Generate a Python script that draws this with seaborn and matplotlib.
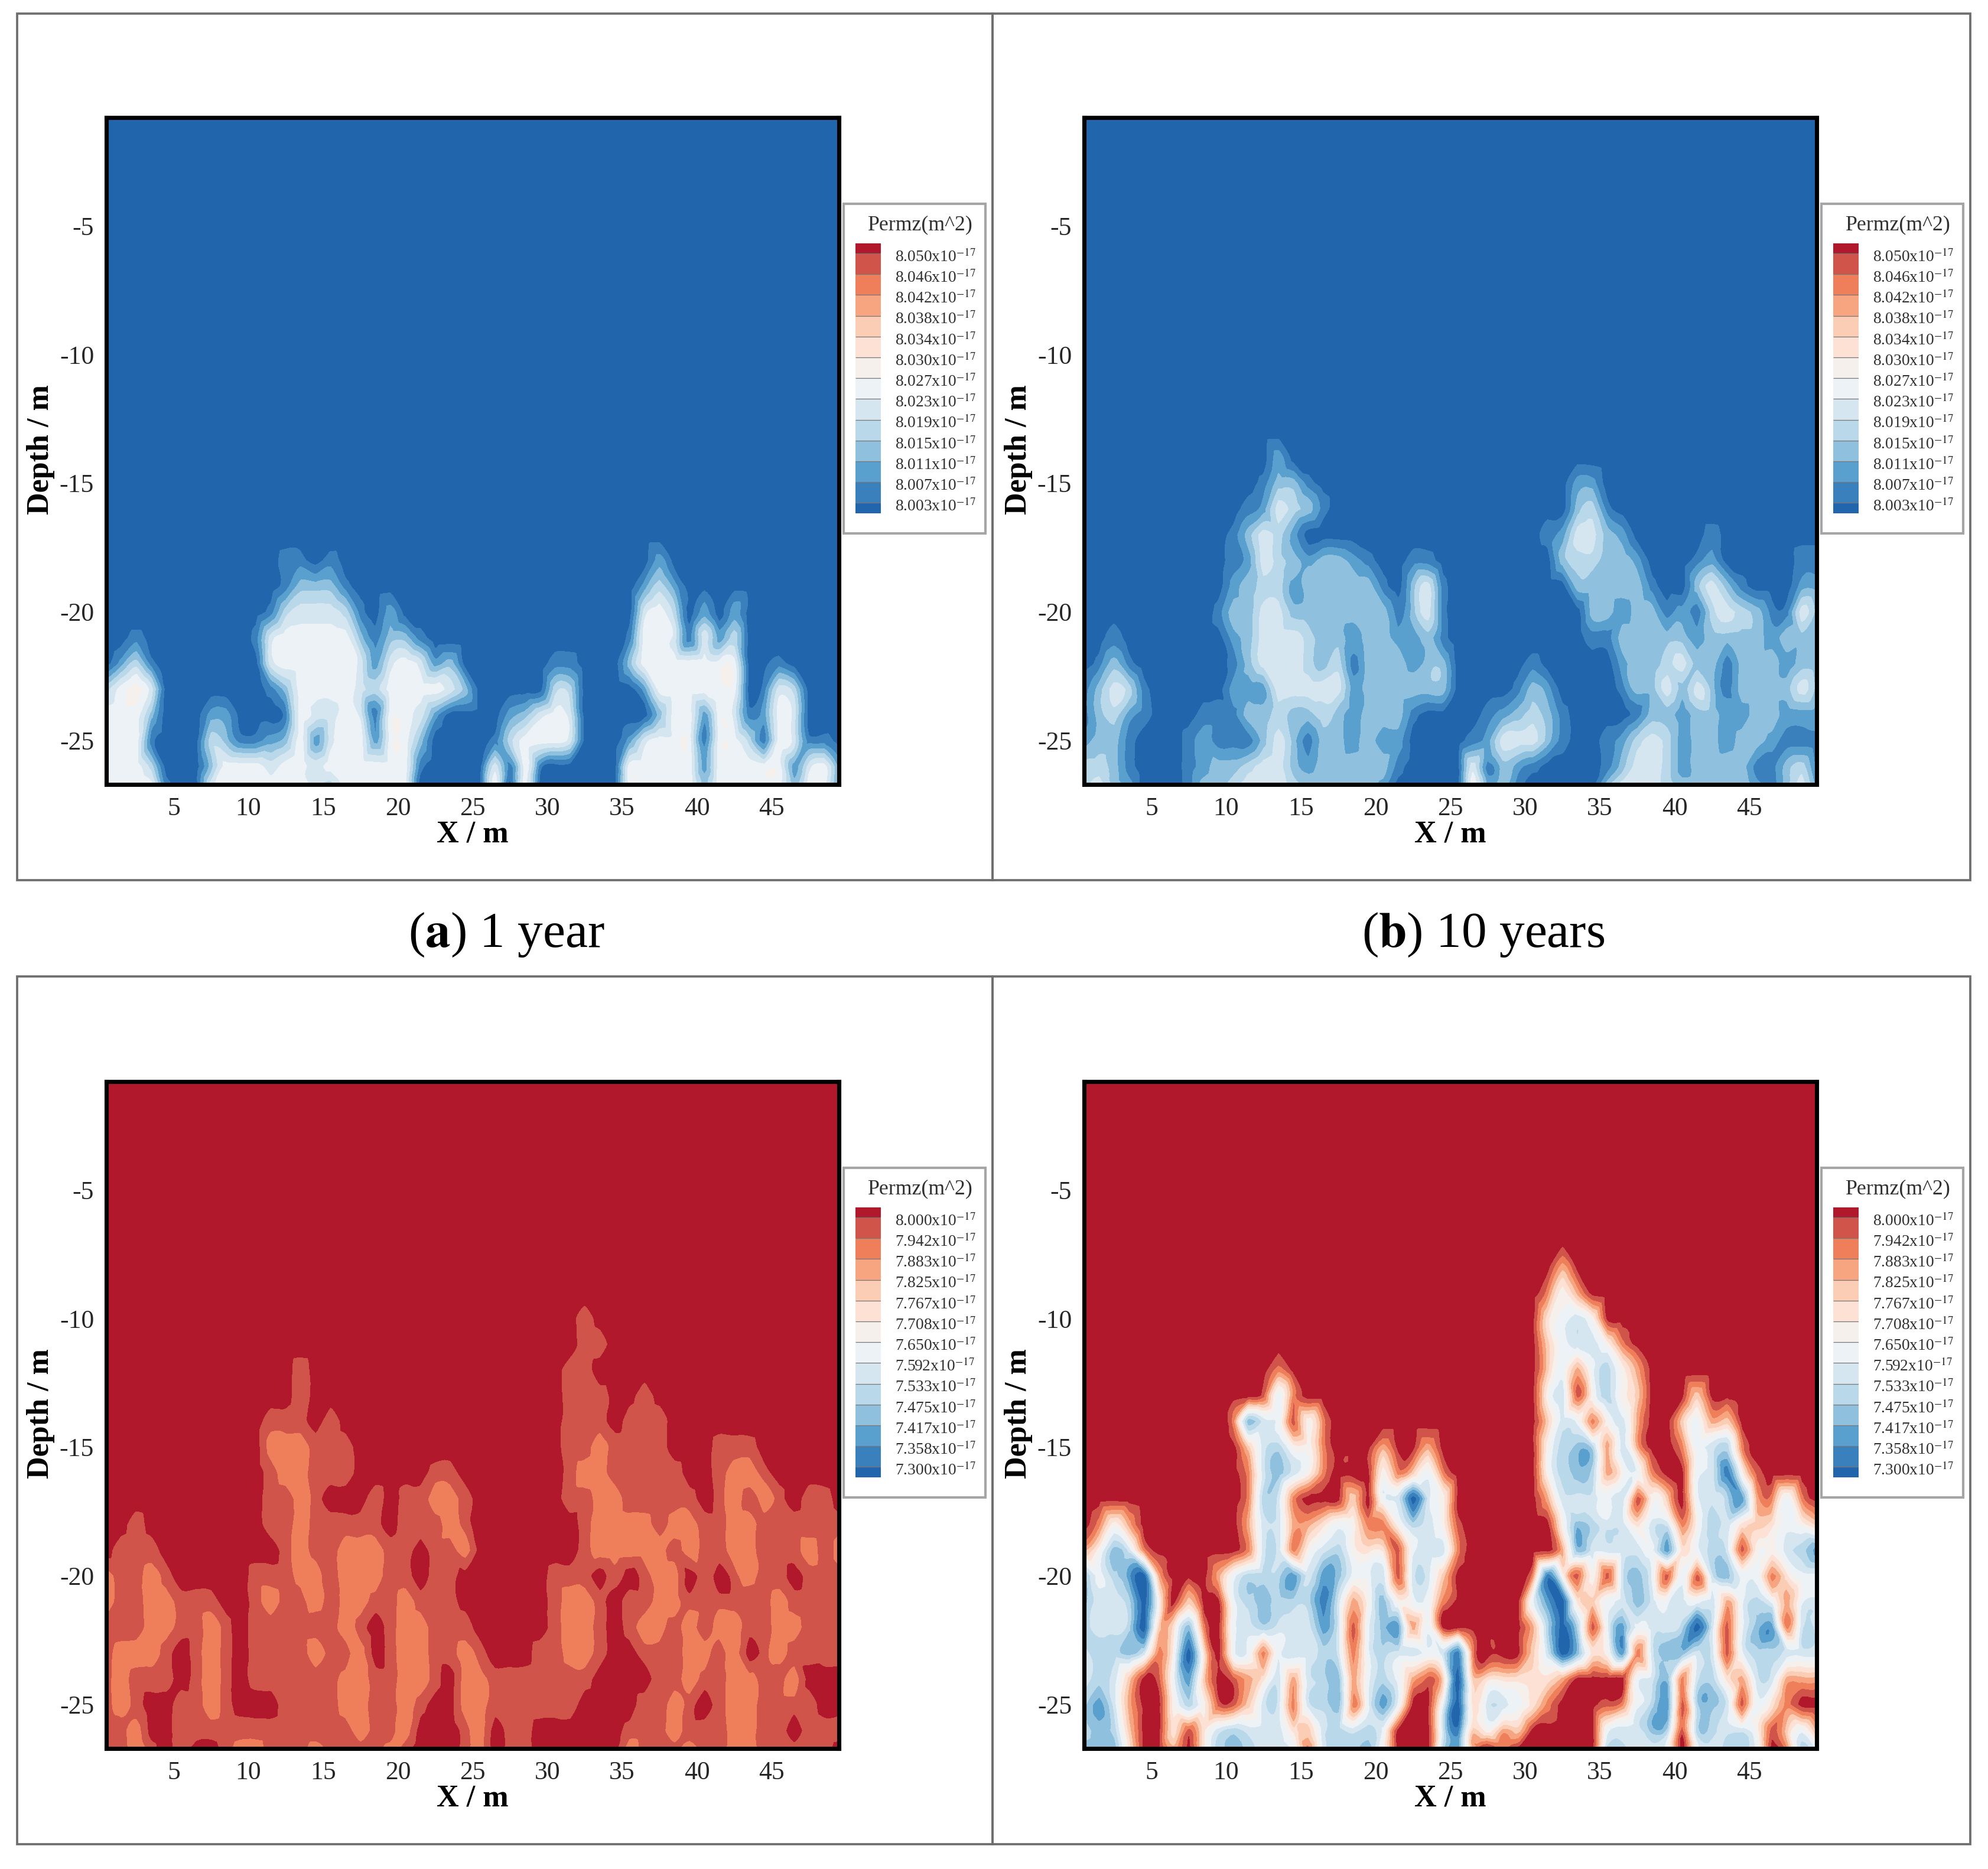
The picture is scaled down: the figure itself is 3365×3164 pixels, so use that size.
import numpy as np
import matplotlib
matplotlib.use("Agg")
import matplotlib.pyplot as plt
import matplotlib.tri as mtri
from matplotlib.colors import ListedColormap, BoundaryNorm
from matplotlib.patches import Rectangle
from matplotlib.ticker import MultipleLocator
import seaborn as sns

sns.set_theme(style="white")
plt.rcParams["font.family"] = ["Liberation Serif", "DejaVu Serif"]
plt.rcParams["mathtext.fontset"] = "stix"

W, H = 3365, 3164

# band colours, from the lowest band to the highest
BAND_COLORS = ["#2166AC", "#3A80BD", "#5AA0CF", "#8FC1DE", "#B9D9EA", "#D5E6F1", "#EDF2F6",
               "#F6F0EC", "#FCE1D4", "#FBCDB5", "#F7A581", "#EE7F5A", "#D1544A", "#B2182B"]
palette = sns.color_palette(BAND_COLORS)

X_CELLS = np.arange(0.5, 50.0, 1.0)

LABELS_TOP = ["8.050", "8.046", "8.042", "8.038", "8.034", "8.030", "8.027", "8.023", "8.019", "8.015", "8.011", "8.007", "8.003"]
LABELS_BOTTOM = ["8.000", "7.942", "7.883", "7.825", "7.767", "7.708", "7.650", "7.592", "7.533", "7.475", "7.417", "7.358", "7.300"]

# Band index: one hex digit for each metre of X (groups of five).
# Panels a, b count up from the blue background; panels c, d count down from the red one.
Y_A = [-0.8, -17, -18, -19, -20, -21, -22, -23, -24, -25, -26, -26.7]
ROWS_A = [
    "00000 00000 00000 00000 00000 00000 00000 00000 00000 00000",
    "00000 00000 00000 00000 00000 00000 00000 00000 00000 00000",
    "00000 00000 00110 10000 00000 00000 00000 00200 00000 00000",
    "00000 00000 00133 31000 00000 00000 00000 02420 00000 00000",
    "00000 00000 01455 54102 00000 00000 00000 05640 20200 00000",
    "00100 00000 15666 66313 31000 00000 00000 16651 52400 00000",
    "02410 00000 05666 66525 65230 00000 11000 36666 66600 10000",
    "46750 00000 01366 66546 66653 00000 44000 02666 66601 54000",
    "66630 00220 00165 56516 65200 00235 65000 00366 26512 65000",
    "66610 00431 12362 56626 63000 01466 65000 25666 16641 65110",
    "66640 00366 65665 66666 61000 05161 00000 66666 26666 62562",
    "66661 00566 66665 46666 60000 06060 00000 66666 36666 63662",
]

Y_B = [-0.8, -13, -14, -15, -16, -17, -18, -19, -20, -21, -22, -23, -24, -25, -26, -26.7]
ROWS_B = [
    "00000 00000 00000 00000 00000 00000 00000 00000 00000 00000",
    "00000 00000 00000 00000 00000 00000 00000 00000 00000 00000",
    "00000 00000 00020 00000 00000 00000 00000 00000 00000 00000",
    "00000 00000 00133 10000 00000 00000 00022 00000 00000 00000",
    "00000 00000 01254 31000 00000 00000 00034 10000 00000 00000",
    "00000 00000 13542 00000 00000 00000 01255 32000 00100 00000",
    "00000 00000 12543 23321 00110 00000 00344 33200 01200 00011",
    "00000 00000 23442 33333 10351 00000 00033 33310 03531 00022",
    "00000 00001 33553 33333 31351 00000 00003 32331 21454 31153",
    "00100 00000 23555 43323 32231 00000 00001 13333 32333 32333",
    "01310 00000 13555 43413 33233 00000 10000 02334 53313 33233",
    "13541 00000 22255 55523 33333 00001 32000 01335 35313 33353",
    "13421 00011 13343 34323 33100 00123 43100 00133 23322 33222",
    "23310 00121 11353 13323 22000 01255 53100 12454 23323 32111",
    "44310 00123 34553 23333 31000 05132 10000 13554 23333 11341",
    "45320 00133 45554 33333 20000 06231 00000 35554 33333 21352",
]

Y_C = [-0.8, -9, -10, -11, -12, -13, -14, -15, -16, -17, -18, -19, -20, -21, -22, -23, -24, -25, -26, -26.7]
ROWS_C = [
    "00000 00000 00000 00000 00000 00000 00000 00000 00000 00000",
    "00000 00000 00000 00000 00000 00000 00000 00000 00000 00000",
    "00000 00000 00000 00000 00000 00000 00100 00000 00000 00000",
    "00000 00000 00000 00000 00000 00000 00110 00000 00000 00000",
    "00000 00000 00010 00000 00000 00000 01100 00000 00000 00000",
    "00000 00000 00010 00000 00000 00000 01110 01000 00000 00000",
    "00000 00000 01110 10000 00000 00000 01110 11100 00000 00000",
    "00000 00000 02221 11000 00000 00000 01121 11100 01110 00000",
    "00000 00000 01221 11000 00110 00000 01221 11110 01221 00000",
    "00000 00000 01121 00010 11221 00000 01122 11111 01212 10110",
    "00100 00000 01121 11110 11121 00000 00122 22122 11221 11111",
    "01110 00000 00121 12221 10112 00000 00122 22212 11221 11212",
    "21121 00000 11122 12221 10110 00000 11101 01220 10121 10111",
    "21122 11100 12112 12211 21110 00000 12210 11221 11111 21111",
    "11122 11210 11111 12101 22111 00000 12210 12212 12211 22111",
    "12221 01210 11112 11201 22112 10001 12210 01112 21201 21111",
    "12111 01210 11111 12211 22102 21111 11100 00112 11221 12000",
    "12100 11210 00111 12211 21002 21111 11000 01121 01221 11100",
    "11200 11111 11111 11211 20001 20110 00000 11121 11221 10111",
    "11210 10012 21112 11112 10001 20110 00000 21112 11221 11110",
]

Y_D = [-0.8, -7, -8, -9, -10, -11, -12, -13, -14, -15, -16, -17, -18, -19, -20, -21, -22, -23, -24, -25, -26, -26.7]
ROWS_D = [
    "00000 00000 00000 00000 00000 00000 00000 00000 00000 00000",
    "00000 00000 00000 00000 00000 00000 00000 00000 00000 00000",
    "00000 00000 00000 00000 00000 00000 00300 00000 00000 00000",
    "00000 00000 00000 00000 00000 00000 02630 00000 00000 00000",
    "00000 00000 00000 00000 00000 00000 05786 00000 00000 00000",
    "00000 00000 00000 00000 00000 00000 04788 62000 00000 00000",
    "00000 00000 00020 00000 00000 00000 04737 96300 00000 00000",
    "00000 00000 00172 00000 00000 00000 06816 96400 04000 00000",
    "00000 00000 2a871 62000 00000 00000 04872 68300 47340 00000",
    "00000 00000 04896 62000 30030 00000 069a9 38300 27892 00000",
    "00000 00000 028a8 62000 62472 00000 069a9 36720 078c6 10000",
    "00000 00000 02982 00040 78d86 00000 03888 78164 0789b 32720",
    "02630 00000 03883 35762 26986 10000 006a9 88588 26985 45764",
    "36a82 00000 02882 68965 51788 20000 003a8 8887b 57981 6689b",
    "a79bd 30003 7999b 8ba77 81884 00000 2c616 18a71 718a7 72577",
    "a889d 60400 79a99 9c836 a6772 00000 7bd54 78a87 87837 97378",
    "9889d 45a20 78988 8b817 ab370 00000 39d91 7b788 9d817 ab288",
    "899a8 26d50 77278 89827 98878 c2000 48da5 6b28a a8817 99888",
    "89840 17b40 13583 89a37 97314 d4555 55300 0078a 28953 88333",
    "9b830 06961 14882 89a27 b7007 d5887 52000 1279b 19a81 75200",
    "9a940 05158 98885 48989 70008 c4634 00000 788a9 19988 61473",
    "aaa50 03059 a9887 2899a 60009 b3020 00000 99887 07899 70297",
]

PANELS = [
    (180, 199, Y_A, ROWS_A, False, LABELS_TOP),
    (1835, 199, Y_B, ROWS_B, False, LABELS_TOP),
    (180, 1831, Y_C, ROWS_C, True, LABELS_BOTTOM),
    (1835, 1831, Y_D, ROWS_D, True, LABELS_BOTTOM),
]
CAPTIONS = [(857, 1583, "a", " 1 year"), (2511, 1583, "b", " 10 years")]
FRAMES = [(29, 23, 1651, 1467), (1680, 23, 1655, 1467), (29, 1653, 1651, 1469), (1680, 1653, 1655, 1469)]

fig = plt.figure(figsize=(W / 300, H / 300), dpi=300, facecolor="white")


def fx(p):
    return p / W


def fy(p):
    return 1 - p / H


def add_box(px, py, pw, ph):
    return fig.add_axes([fx(px), fy(py + ph), pw / W, ph / H])


for px, py, pw, ph in FRAMES:
    fig.add_artist(Rectangle((fx(px), fy(py + ph)), pw / W, ph / H, transform=fig.transFigure,
                             fill=False, edgecolor="#6e6e6e", linewidth=0.9))

AX_W, AX_H = 1240, 1129
for left, top, ys, rows, from_top, labels in PANELS:
    ax = add_box(left, top, AX_W, AX_H)
    z = np.array([[int(c, 16) for c in r.replace(" ", "")] for r in rows], dtype=float)
    colors = palette[::-1] if from_top else palette
    cmap = ListedColormap(colors)
    bounds = np.arange(-0.5, 14.0, 1.0)
    gx, gy = np.meshgrid(X_CELLS, ys)
    tri = mtri.Triangulation(gx.ravel(), gy.ravel())
    fine_tri, cubic_z = mtri.UniformTriRefiner(tri).refine_field(z.ravel(), subdiv=3)
    linear_z = mtri.LinearTriInterpolator(tri, z.ravel())(fine_tri.x, fine_tri.y)
    fine_z = 0.5 * cubic_z + 0.5 * np.ma.filled(linear_z, 0.0)
    ax.tricontourf(fine_tri, np.clip(fine_z, 0, 13), levels=bounds, cmap=cmap,
                   norm=BoundaryNorm(bounds, cmap.N))
    ax.set_xlim(0.5, 49.5)
    ax.set_ylim(-26.7, -0.8)
    ax.xaxis.set_major_locator(MultipleLocator(5))
    ax.xaxis.set_minor_locator(MultipleLocator(1))
    ax.yaxis.set_major_locator(MultipleLocator(5))
    ax.yaxis.set_minor_locator(MultipleLocator(1))
    ax.tick_params(which="major", direction="in", length=7.5, width=1.7, color="black",
                   labelsize=10.5, pad=5, bottom=True, left=True)
    ax.tick_params(which="minor", direction="in", length=3.8, width=0.6, color="black",
                   bottom=True, left=True)
    ax.set_xticks([t for t in range(5, 50, 5)])
    ax.set_yticks([t for t in range(-25, 0, 5)])
    ax.set_yticklabels([f"-{abs(t)}" for t in range(-25, 0, 5)])
    for s in ax.spines.values():
        s.set_visible(True)
        s.set_linewidth(1.7)
        s.set_color("black")
    fig.text(fx(left + 620), fy(top + 1213), "X / m", ha="center", va="center",
             fontsize=12.5, fontweight="bold", color="black")
    fig.text(fx(left - 111), fy(top + 562), "Depth / m", ha="center", va="center",
             rotation=90, fontsize=12.5, fontweight="bold", color="black")

    # legend box
    lx = left + 1248
    ly = top + 146
    fig.add_artist(Rectangle((fx(lx), fy(ly + 558)), 240 / W, 558 / H, transform=fig.transFigure,
                             facecolor="white", edgecolor="#a5a5a5", linewidth=1.0, zorder=3))
    fig.text(fx(lx + 130), fy(ly + 36), "Permz(m^2)", ha="center", va="center",
             fontsize=8.6, color="#303030", zorder=4)
    leg = add_box(lx + 20, ly + 67, 43, 457)
    edges = np.array([0, 17] + [17 + 35.2 * k for k in range(1, 14)][:12] + [457.0])
    leg_colors = np.arange(14)[::-1].reshape(-1, 1)
    leg.pcolormesh([0, 1], edges, leg_colors, cmap=ListedColormap(palette), vmin=-0.5, vmax=13.5)
    leg.hlines(edges[1:-1], 0, 1, color="#777777", linewidth=0.3)
    leg.set_ylim(457, 0)
    leg.set_xlim(0, 1)
    leg.axis("off")
    leg.set_zorder(5)
    for k, lab in enumerate(labels):
        fig.text(fx(lx + 87), fy(ly + 90 + 35.2 * k), lab + "x10$^{-17}$", ha="left", va="center",
                 fontsize=6.6, color="#303030", zorder=6)

for cx, cy, letter, rest in CAPTIONS:
    fig.text(fx(cx), fy(cy), "(" + r"$\mathbf{" + letter + "}$" + ")" + rest, ha="center", va="center",
             fontsize=20.5, color="black")

fig.savefig("out.png", dpi=300, facecolor="white")
